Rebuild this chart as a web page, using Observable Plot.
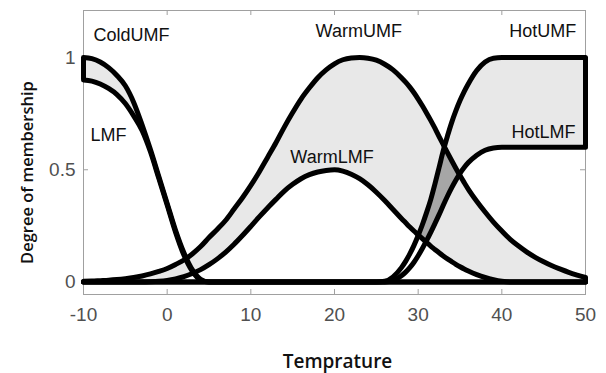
<!DOCTYPE html>
<html><head><meta charset="utf-8">
<script src="https://cdn.jsdelivr.net/npm/d3@7"></script>
<script src="https://cdn.jsdelivr.net/npm/@observablehq/plot@0.6"></script>
<style>html,body{margin:0;padding:0;background:#fff;} svg{display:block}</style>
</head><body><div id="chart"></div>
<script>
// Temperature grid (x values)
const xs = [-10,-9,-8,-7,-6,-5,-4,-3,-2,-1,
  0,1,2,3,4,5,6,7,8,9,
  10,11,12,13,14,15,16,17,18,19,
  20,21,22,23,24,25,26,27,28,
  28.5,29,29.5,30,30.5,31,31.5,32,32.5,33,33.5,34,34.5,35,35.5,36,
  37,38,39,40,41,42,43,44,45,46,47,48,49,50];

const coldUMF = [1,0.995,0.98,0.955,0.92,0.874,0.8,0.7,0.59,0.47,
  0.35,0.23,0.13,0.055,0.012,0,0,0,0,0,
  0,0,0,0,0,0,0,0,0,0,
  0,0,0,0,0,0,0,0,0,
  0,0,0,0,0,0,0,0,0,0,0,0,0,0,0,0,
  0,0,0,0,0,0,0,0,0,0,0,0,0,0];

const coldLMF = [0.9,0.895,0.882,0.862,0.835,0.795,0.74,0.675,0.58,0.462,
  0.343,0.222,0.12,0.048,0.008,0,0,0,0,0,
  0,0,0,0,0,0,0,0,0,0,
  0,0,0,0,0,0,0,0,0,
  0,0,0,0,0,0,0,0,0,0,0,0,0,0,0,0,
  0,0,0,0,0,0,0,0,0,0,0,0,0,0];

const warmUMF = [0.003,0.004,0.006,0.008,0.011,0.015,0.02,0.027,0.036,0.047,
  0.06,0.078,0.098,0.125,0.158,0.198,0.235,0.275,0.325,0.375,
  0.43,0.49,0.555,0.62,0.69,0.755,0.815,0.865,0.91,0.945,
  0.972,0.99,0.998,1,0.997,0.988,0.97,0.945,0.91,
  0.89,0.868,0.843,0.815,0.785,0.753,0.72,0.685,0.648,0.612,0.576,0.541,0.507,0.474,0.443,0.413,
  0.36,0.312,0.267,0.227,0.19,0.16,0.133,0.11,0.09,0.072,0.057,0.043,0.031,0.02];

const warmLMF = [0,0,0,0,0,0,0,0,0.001,0.003,
  0.007,0.014,0.024,0.038,0.055,0.077,0.103,0.133,0.168,0.207,
  0.248,0.29,0.33,0.368,0.405,0.435,0.46,0.478,0.49,0.497,
  0.5,0.494,0.48,0.46,0.433,0.4,0.363,0.323,0.283,
  0.264,0.245,0.227,0.21,0.193,0.176,0.16,0.145,0.13,0.116,0.103,0.091,0.079,0.068,0.058,0.049,
  0.033,0.02,0.01,0.003,0,0,0,0,0,0,0,0,0,0];

const hotUMF = [0,0,0,0,0,0,0,0,0,0,
  0,0,0,0,0,0,0,0,0,0,
  0,0,0,0,0,0,0,0,0,0,
  0,0,0,0,0,0,0.003,0.023,0.064,
  0.092,0.125,0.163,0.207,0.255,0.309,0.367,0.436,0.51,0.585,0.65,0.71,0.762,0.808,0.848,0.883,
  0.942,0.98,0.997,1,1,1,1,1,1,1,1,1,1,1];

const hotLMF = [0,0,0,0,0,0,0,0,0,0,
  0,0,0,0,0,0,0,0,0,0,
  0,0,0,0,0,0,0,0,0,0,
  0,0,0,0,0,0,0,0.007,0.028,
  0.044,0.064,0.088,0.117,0.149,0.184,0.221,0.26,0.3,0.342,0.382,0.419,0.453,0.484,0.51,0.532,
  0.565,0.587,0.597,0.6,0.6,0.6,0.6,0.6,0.6,0.6,0.6,0.6,0.6,0.6];

const xTicks = [-10,0,10,20,30,40,50];
const yTicks = [0,0.5,1];

const curveNames = ["ColdUMF","LMF","WarmUMF","WarmLMF","HotUMF","HotLMF"];
const labelX = [-8.8,-9.16,22.9,19.7,48.9,48.8];
const labelY = [1.098,0.653,1.116,0.555,1.116,0.668];
const labelAnchor = ["start","start","middle","middle","end","end"];

const LIGHT = "#e8e8e8", DARK = "#a6a6a6", FRAME = "#a0a0a0", TICKTEXT = "#505050";
const curve = "monotone-x";

const rows = xs.map((x, i) => ({x, cu: coldUMF[i], cl: coldLMF[i], wu: warmUMF[i], wl: warmLMF[i], hu: hotUMF[i], hl: hotLMF[i]}));
const overlap = rows.filter(d => d.x >= 29.5 && d.x <= 35.5).map(d => {
  const lo = Math.max(d.wl, d.hl), hi = Math.min(d.wu, d.hu);
  return {x: d.x, lo, hi: Math.max(lo, hi)};
});
const labels = curveNames.map((name, i) => ({name, x: labelX[i], y: labelY[i], anchor: labelAnchor[i]}));
const last = xs.length - 1;
const closures = [
  {x: xs[0], y1: coldLMF[0], y2: coldUMF[0]},
  {x: xs[last], y1: hotLMF[last], y2: hotUMF[last]},
  {x: xs[last], y1: warmLMF[last], y2: warmUMF[last]}
];

const lineOpts = {x: "x", stroke: "black", strokeWidth: 5, curve, strokeLinejoin: "round"};

const chart = Plot.plot({
  width: 606, height: 373,
  marginLeft: 83, marginRight: 21, marginTop: 10, marginBottom: 79,
  x: {domain: [-10, 50], label: null},
  y: {domain: [-0.0557, 1.2094], label: null},
  style: {fontFamily: "'Liberation Sans', Arial, Helvetica, sans-serif", background: "white"},
  marks: [
    Plot.frame({stroke: FRAME, strokeWidth: 1}),
    Plot.tickX(xTicks, {x: d => d, insetTop: 279, stroke: FRAME}),
    Plot.tickX(xTicks, {x: d => d, insetBottom: 279, stroke: FRAME}),
    Plot.tickY(yTicks, {y: d => d, insetRight: 497, stroke: FRAME}),
    Plot.tickY(yTicks, {y: d => d, insetLeft: 497, stroke: FRAME}),
    Plot.areaY(rows, {x: "x", y1: "cl", y2: "cu", fill: LIGHT, curve}),
    Plot.areaY(rows, {x: "x", y1: "hl", y2: "hu", fill: LIGHT, curve}),
    Plot.areaY(rows.filter(d => d.x >= 25 && d.x <= 32), {x: "x", y1: 0, y2: "wl", fill: "white", curve}),
    Plot.areaY(rows, {x: "x", y1: "wl", y2: "wu", fill: LIGHT, curve}),
    Plot.areaY(overlap, {x: "x", y1: "lo", y2: "hi", fill: DARK}),
    Plot.line(rows, {...lineOpts, y: "cu"}),
    Plot.line(rows, {...lineOpts, y: "cl"}),
    Plot.line(rows, {...lineOpts, y: "wu"}),
    Plot.line(rows, {...lineOpts, y: "wl"}),
    Plot.line(rows, {...lineOpts, y: "hu"}),
    Plot.line(rows, {...lineOpts, y: "hl"}),
    Plot.ruleX(closures, {x: "x", y1: "y1", y2: "y2", stroke: "black", strokeWidth: 5}),
    ...["start", "middle", "end"].map(a => Plot.text(labels.filter(d => d.anchor === a), {
      x: "x", y: "y", text: "name", textAnchor: a, lineAnchor: "middle", fontSize: 18, fill: "#111"
    })),
    Plot.axisX({ticks: xTicks, tickSize: 0, tickPadding: 13, tickFormat: d => String(d), fontSize: 19, color: TICKTEXT, label: null}),
    Plot.axisY({ticks: yTicks, tickSize: 0, tickPadding: 8, tickFormat: d => String(d), fontSize: 19, color: TICKTEXT, label: null}),
    Plot.text(["Temprature"], {text: d => d, frameAnchor: "bottom", textAnchor: "middle", dx: 3, dy: 67, lineAnchor: "middle",
      fontSize: 19, fontWeight: 600, fontFamily: "'Open Sans', sans-serif", fill: "#111"}),
    Plot.text(["Degree of membership"], {text: d => d, frameAnchor: "left", textAnchor: "middle", dx: -56, dy: 20, rotate: -90, lineAnchor: "middle",
      fontSize: 16.5, fontWeight: 600, fontFamily: "'Open Sans', sans-serif", fill: "#111"})
  ]
});
document.getElementById("chart").appendChild(chart);
</script>
</body></html>
